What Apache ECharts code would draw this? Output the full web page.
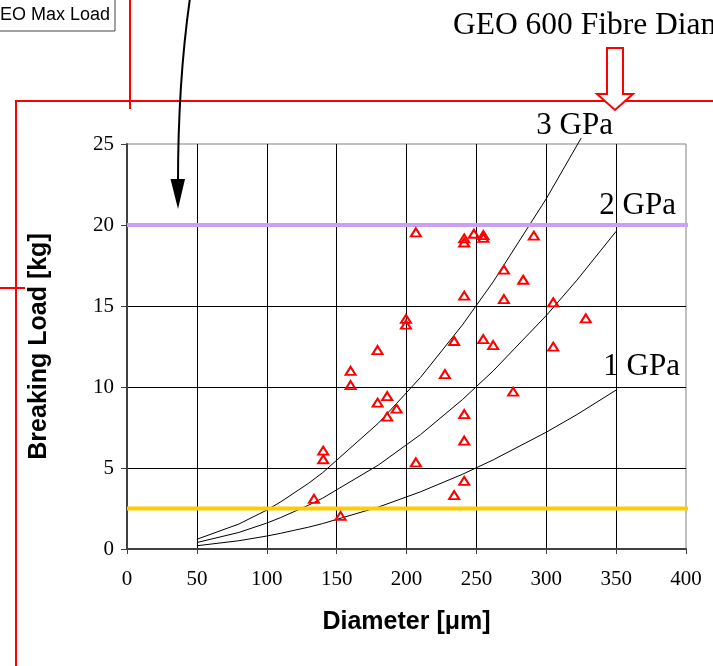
<!DOCTYPE html>
<html>
<head>
<meta charset="utf-8">
<script src="https://cdn.jsdelivr.net/npm/echarts@6/dist/echarts.min.js"></script>
<style>
html,body{margin:0;padding:0;background:#fff;}
#chart{width:713px;height:666px;}
</style>
</head>
<body>
<div id="chart"></div>
<script>
// Breaking tests: diameter [um], breaking load [kg]
const sampleDiameter = [133.8,140.4,140.4,152.8,160,160,179.3,179.3,186.2,186.2,192.9,199.6,199.6,206.7,206.7,227.5,234.1,234.1,241.3,241.3,241.3,241.3,241.3,241.3,248.2,255,255,254.9,262,269.7,269.7,276.3,283.5,291.1,305,305,328.3];
const sampleLoad     = [3.10,6.07,5.54,2.04,11.0,10.12,12.28,9.03,9.44,8.17,8.66,14.2,13.85,5.35,19.55,10.8,12.84,3.33,19.17,18.92,15.64,8.33,6.69,4.2,19.46,19.38,19.2,12.96,12.59,17.24,15.43,9.71,16.62,19.34,15.23,12.49,14.24];

// Strength curves
const curveDiameter = [50,80,100,110,130,140,180,210,240,262,300,322,350];
const load1GPa = [0.20,0.51,0.80,0.97,1.35,1.57,2.59,3.53,4.61,5.50,7.21,8.30,9.81];
const load2GPa = [0.40,1.02,1.60,1.94,2.71,3.14,5.19,7.06,9.22,10.99,14.41,16.60,19.61];
const curve3Diameter = [50,80,100,110,130,140,180,210,240,262,300,325];
const load3GPa = [0.60,1.54,2.40,2.91,4.06,4.71,7.78,10.59,13.83,16.49,21.62,25.37];

// Reference levels
const maxLoadLevel = 20;
const lowLevel = 2.5;
const levelSpan = [0, 420];

const xTicks = [0,50,100,150,200,250,300,350,400];
const yTicks = [0,5,10,15,20,25];

const zip = (a, b) => a.map((v, i) => [v, b[i]]);

const chart = echarts.init(document.getElementById('chart'), null, {renderer: 'canvas'});
const serif = '"Liberation Serif","Times New Roman",serif';
const sans = '"Liberation Sans",Arial,sans-serif';

const curveStyle = {type: 'line', symbol: 'none', silent: true, lineStyle: {color: '#000', width: 1}, z: 3};

chart.setOption({
  animation: false,
  grid: {left: 127, top: 144, width: 559, height: 405, show: true, borderColor: '#808080', borderWidth: 1, backgroundColor: 'transparent'},
  xAxis: {
    type: 'value', min: xTicks[0], max: xTicks[xTicks.length-1], interval: 50,
    name: 'Diameter [μm]', nameLocation: 'middle', nameGap: 61,
    nameTextStyle: {fontFamily: sans, fontWeight: 'bold', fontSize: 25, color: '#000'},
    axisLine: {show: true, onZero: false, lineStyle: {color: '#404040', width: 2}},
    axisTick: {show: true, length: 5, lineStyle: {color: '#404040', width: 1}},
    axisLabel: {margin: 20, fontFamily: serif, fontSize: 21, color: '#000'},
    splitLine: {show: true, showMaxLine: false, lineStyle: {color: '#000', width: 1}}
  },
  yAxis: {
    type: 'value', min: yTicks[0], max: yTicks[yTicks.length-1], interval: 5,
    name: 'Breaking Load [kg]', nameLocation: 'middle', nameGap: 75, nameRotate: 90,
    nameTextStyle: {fontFamily: sans, fontWeight: 'bold', fontSize: 25, color: '#000'},
    axisLine: {show: true, onZero: false, lineStyle: {color: '#404040', width: 2}},
    axisTick: {show: true, length: 6, lineStyle: {color: '#404040', width: 1}},
    axisLabel: {margin: 13, fontFamily: serif, fontSize: 21, color: '#000'},
    splitLine: {show: true, showMaxLine: false, lineStyle: {color: '#000', width: 1}}
  },
  series: [
    Object.assign({}, curveStyle, {name: '1 GPa', data: zip(curveDiameter, load1GPa)}),
    Object.assign({}, curveStyle, {name: '2 GPa', data: zip(curveDiameter, load2GPa)}),
    Object.assign({}, curveStyle, {name: '3 GPa', data: zip(curve3Diameter, load3GPa), clip: false}),
    {type: 'line', symbol: 'none', silent: true, clip: false, z: 4,
     lineStyle: {color: '#C9A0F5', width: 4}, data: levelSpan.map(x => [x, maxLoadLevel])},
    {type: 'line', symbol: 'none', silent: true, clip: false, z: 4,
     lineStyle: {color: '#FFCC00', width: 4}, data: levelSpan.map(x => [x, lowLevel])},
    {type: 'scatter', symbol: 'triangle', symbolSize: [10, 8], z: 5,
     itemStyle: {color: 'rgba(255,255,255,0)', borderColor: '#FF0000', borderWidth: 2, opacity: 1},
     data: zip(sampleDiameter, sampleLoad)}
  ],
  graphic: [
    // red frame lines
    {type: 'line', z: 10, shape: {x1: 15, y1: 101, x2: 713, y2: 101}, style: {stroke: '#FF0000', lineWidth: 2}},
    {type: 'line', z: 10, shape: {x1: 16, y1: 100, x2: 16, y2: 666}, style: {stroke: '#FF0000', lineWidth: 2}},
    {type: 'line', z: 10, shape: {x1: 130, y1: 0, x2: 130, y2: 109}, style: {stroke: '#FF0000', lineWidth: 2}},
    {type: 'line', z: 10, shape: {x1: 0, y1: 288, x2: 25, y2: 288}, style: {stroke: '#FF0000', lineWidth: 2}},
    // hollow red arrow
    {type: 'polygon', z: 11, shape: {points: [[607,48],[623,48],[623,94],[633,94],[615,110],[597,94],[607,94]]},
     style: {fill: '#fff', stroke: '#FF0000', lineWidth: 2}},
    // box
    {type: 'rect', z: 10, shape: {x: -5, y: -5, width: 120, height: 36}, style: {fill: '#fff', stroke: '#444', lineWidth: 1}},
    {type: 'text', z: 11, style: {x: -14, y: 15, text: 'GEO Max Load', fontFamily: sans, fontSize: 18, fill: '#000', verticalAlign: 'middle', align: 'left'}},
    // black arrow
    {type: 'bezierCurve', z: 10, shape: {x1: 190, y1: -2, cpx1: 184, cpy1: 40, cpx2: 178, cpy2: 100, x2: 178, y2: 182},
     style: {stroke: '#000', lineWidth: 2, fill: null}},
    {type: 'polygon', z: 10, shape: {points: [[170.5,179],[185,179],[178,209]]}, style: {fill: '#000'}},
    // texts
    {type: 'text', z: 11, style: {x: 453, y: 26, text: 'GEO 600 Fibre Diameter', fontFamily: serif, fontSize: 31.5, fill: '#000', verticalAlign: 'middle', align: 'left'}},
    {type: 'text', z: 11, style: {x: 613, y: 126, text: '3 GPa', fontFamily: serif, fontSize: 31, fill: '#000', verticalAlign: 'middle', align: 'right'}},
    {type: 'text', z: 11, style: {x: 676, y: 206, text: '2 GPa', fontFamily: serif, fontSize: 31, fill: '#000', verticalAlign: 'middle', align: 'right'}},
    {type: 'text', z: 11, style: {x: 680, y: 367, text: '1 GPa', fontFamily: serif, fontSize: 31, fill: '#000', verticalAlign: 'middle', align: 'right'}}
  ]
});
</script>
</body>
</html>
